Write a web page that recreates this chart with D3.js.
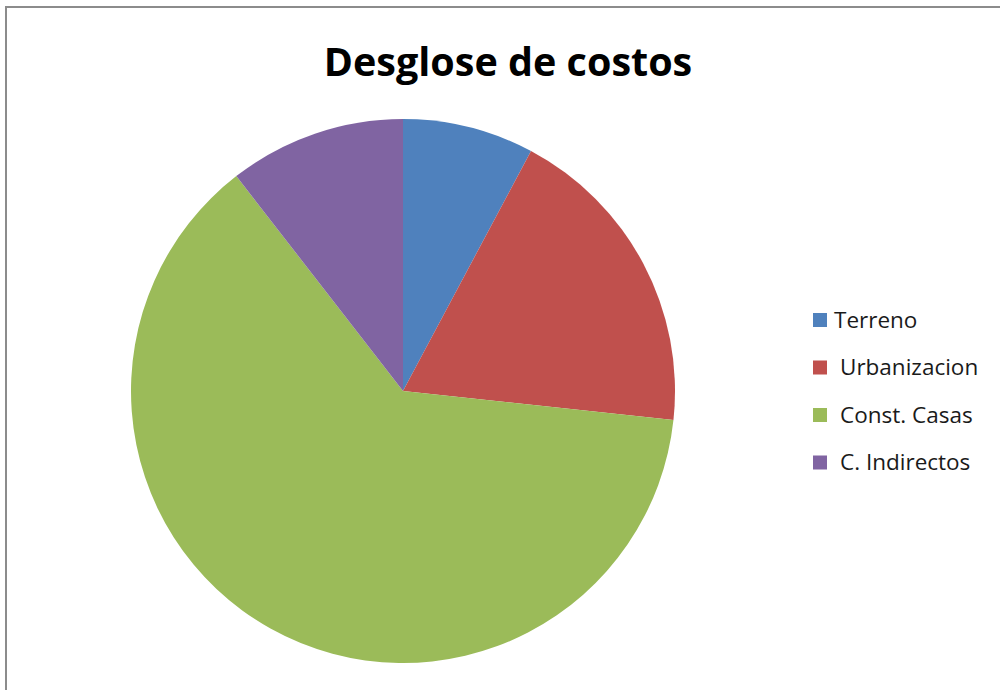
<!DOCTYPE html>
<html>
<head>
<meta charset="utf-8">
<script src="https://cdn.jsdelivr.net/npm/d3@7"></script>
<style>
  html, body { margin: 0; padding: 0; background: #fff; }
  svg { display: block; }
</style>
</head>
<body>
<svg id="chart" width="1000" height="690"></svg>
<script>
// Cost breakdown (percent of total)
const categories = ["Terreno", "Urbanizacion", "Const. Casas", "C. Indirectos"];
const values = [7.8, 18.9, 62.8, 10.5];
const colors = ["#4f81bd", "#c0504d", "#9bbb59", "#8064a2"];
const title = "Desglose de costos";

const svg = d3.select("#chart");

// Chart frame
svg.append("rect")
  .attr("x", 6).attr("y", 7)
  .attr("width", 1010).attr("height", 700)
  .attr("fill", "#fff")
  .attr("stroke", "#8c8c8c")
  .attr("stroke-width", 2);

svg.append("text")
  .attr("x", 508).attr("y", 76)
  .attr("text-anchor", "middle")
  .attr("font-family", "'Open Sans', sans-serif")
  .attr("font-weight", "bold")
  .attr("font-size", 39.5)
  .attr("fill", "#000")
  .text(title);

const cx = 403, cy = 391, r = 272;
const data = categories.map((c, i) => ({ name: c, value: values[i], color: colors[i] }));

const pie = d3.pie().sort(null).value(d => d.value);
const arc = d3.arc().innerRadius(0).outerRadius(r);

svg.append("g")
  .attr("transform", `translate(${cx},${cy})`)
  .selectAll("path")
  .data(pie(data))
  .join("path")
  .attr("d", arc)
  .attr("fill", d => d.data.color);

// Legend
const legend = svg.append("g");
const rows = legend.selectAll("g")
  .data(data)
  .join("g")
  .attr("transform", (d, i) => `translate(813, ${320 + i * 47.5})`);

rows.append("rect")
  .attr("x", 0).attr("y", -7)
  .attr("width", 14).attr("height", 14)
  .attr("fill", d => d.color);

rows.append("text")
  .attr("x", (d, i) => i === 0 ? 21 : 27)
  .attr("y", 0)
  .attr("dy", "0.35em")
  .attr("font-family", "'Open Sans', sans-serif")
  .attr("font-size", 22.5)
  .attr("fill", "#1a1a1a")
  .text(d => d.name);
</script>
</body>
</html>
